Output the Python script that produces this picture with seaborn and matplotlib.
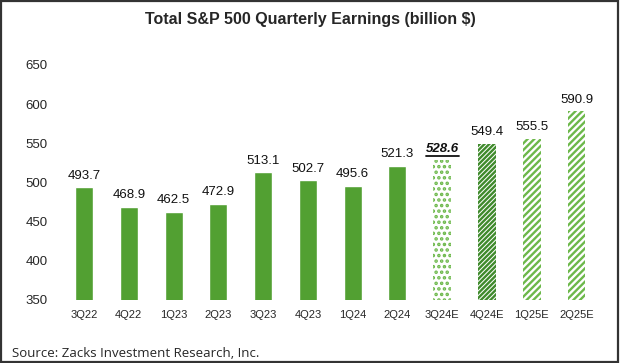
import numpy as np
import pandas as pd
import matplotlib.pyplot as plt
import seaborn as sns
from matplotlib.patches import Rectangle
from matplotlib.lines import Line2D

quarters = ["3Q22", "4Q22", "1Q23", "2Q23", "3Q23", "4Q23", "1Q24", "2Q24",
            "3Q24E", "4Q24E", "1Q25E", "2Q25E"]
earnings = [493.7, 468.9, 462.5, 472.9, 513.1, 502.7, 495.6, 521.3,
            528.6, 549.4, 555.5, 590.9]
y_ticks = [350, 400, 450, 500, 550, 600, 650]

solid_green = "#52a032"
dark_hatch = "#3f8a2c"
light_hatch = "#6cb84a"

sns.set_theme(style="white")
plt.rcParams["font.family"] = ["Liberation Sans", "DejaVu Sans"]
plt.rcParams["hatch.linewidth"] = 1.7

df = pd.DataFrame({"quarter": quarters, "earnings": earnings})

fig = plt.figure(figsize=(6.2, 3.63), dpi=100)
ax = fig.add_axes([0.0994, 0.1736, 0.8666, 0.6474])

sns.barplot(data=df, x="quarter", y="earnings", color=solid_green,
            width=0.4, saturation=1, ax=ax)

# estimate bars get hatched fills
styles = {
    "3Q24E": ("...", light_hatch),
    "4Q24E": ("///////", dark_hatch),
    "1Q25E": ("/////", light_hatch),
    "2Q25E": ("/////", light_hatch),
}
for patch, q in zip(ax.patches, quarters):
    if q in styles:
        hatch, col = styles[q]
        patch.set_facecolor("white")
        patch.set_edgecolor(col)
        patch.set_hatch(hatch)
        patch.set_linewidth(0)

ax.set_ylim(350, 650)
ax.set_yticks(y_ticks)
ax.set_xlim(-0.5, len(quarters) - 0.5)
ax.set_xlabel("")
ax.set_ylabel("")
ax.tick_params(axis="y", labelsize=9.5, pad=10, length=0)
ax.tick_params(axis="x", labelsize=8, pad=7, length=0)
sns.despine(ax=ax, left=True, bottom=True)

special = None
for i, (q, v) in enumerate(zip(quarters, earnings)):
    if q == "3Q24E":
        special = ax.annotate(f"{v:.1f}", (i, v), xytext=(0, 4),
                              textcoords="offset points", ha="center",
                              va="bottom", fontsize=9.5, fontweight="bold",
                              fontstyle="italic", color="#111111")
    else:
        ax.annotate(f"{v:.1f}", (i, v), xytext=(0, 4),
                    textcoords="offset points", ha="center", va="bottom",
                    fontsize=9.5, color="#111111")

fig.text(0.5, 0.945, "Total S&P 500 Quarterly Earnings (billion $)",
         ha="center", va="center", fontsize=11.5, fontweight="bold")
fig.text(0.02, 0.008, "Source: Zacks Investment Research, Inc.",
         ha="left", va="bottom", fontsize=9.5, family=["Open Sans", "DejaVu Sans"])

fig.patches.append(Rectangle((0.002, 0.003), 0.995, 0.994, transform=fig.transFigure,
                             fill=False, edgecolor="#333333", linewidth=1.6))

# underline the current-quarter estimate
fig.canvas.draw()
bb = special.get_window_extent().transformed(fig.transFigure.inverted())
fig.add_artist(Line2D([bb.x0, bb.x1], [bb.y0 - 0.004, bb.y0 - 0.004],
                      transform=fig.transFigure, color="#111111", linewidth=1.3))

fig.savefig("out.png", dpi=100)
